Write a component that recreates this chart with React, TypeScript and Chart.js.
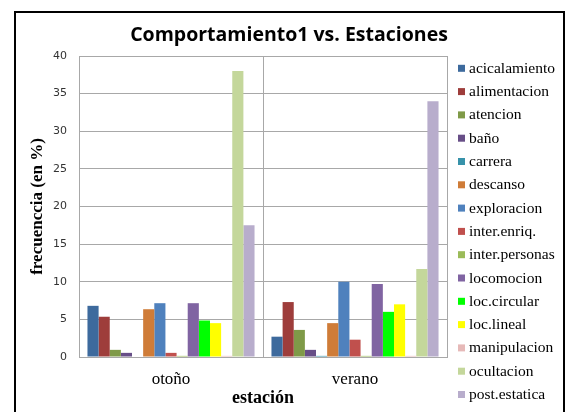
import React, { useEffect, useRef } from "react";
import { Chart, registerables } from "chart.js";

Chart.register(...registerables);

// ---- data ----
const categories = ["otoño", "verano"];
const chartTitle = "Comportamiento1 vs. Estaciones";
const xTitle = "estación";
const yTitle = "frecuenccia (en %)";

const acicalamiento = [6.8, 2.7];
const alimentacion = [5.35, 7.3];
const atencion = [0.95, 3.6];
const bano = [0.55, 0.95];
const carrera = [0, 0.15];
const descanso = [6.35, 4.5];
const exploracion = [7.15, 10.0];
const interEnriq = [0.55, 2.3];
const interPersonas = [0.15, 0.15];
const locomocion = [7.15, 9.7];
const locCircular = [4.85, 6.0];
const locLineal = [4.5, 7.0];
const manipulacion = [0.15, 0.15];
const ocultacion = [38.0, 11.7];
const postEstatica = [17.5, 34.0];

const seriesNames = [
  "acicalamiento", "alimentacion", "atencion", "baño", "carrera", "descanso",
  "exploracion", "inter.enriq.", "inter.personas", "locomocion", "loc.circular",
  "loc.lineal", "manipulacion", "ocultacion", "post.estatica",
];
const seriesValues = [
  acicalamiento, alimentacion, atencion, bano, carrera, descanso,
  exploracion, interEnriq, interPersonas, locomocion, locCircular,
  locLineal, manipulacion, ocultacion, postEstatica,
];
const seriesColors = [
  "#3D6A9D", "#9E3D3B", "#7F9A48", "#674E87", "#3792AA", "#CF7C38",
  "#4F81BD", "#C0504D", "#9BBB59", "#8064A2", "#00FF00",
  "#FFFF00", "#E6B9B8", "#C4D79B", "#B8ADCC",
];

const yMin = 0;
const yMax = 40;
const yStep = 5;

const gridColor = "#a8a8a8";
const serif = "'Liberation Serif', 'Times New Roman', serif";

const framePlugin = {
  id: "frame",
  beforeDraw(chart: any) {
    const { ctx } = chart;
    ctx.save();
    ctx.fillStyle = "#fff";
    ctx.fillRect(0, 0, chart.width, chart.height);
    ctx.strokeStyle = "#000";
    ctx.lineWidth = 2;
    ctx.beginPath();
    ctx.moveTo(15, chart.height + 4);
    ctx.lineTo(15, 12);
    ctx.lineTo(564, 12);
    ctx.lineTo(564, chart.height + 4);
    ctx.stroke();
    ctx.restore();
  },
};

const titlePlugin = {
  id: "customTitle",
  afterDraw(chart: any) {
    const { ctx } = chart;
    ctx.save();
    ctx.font = "bold 19.5px 'Open Sans', Lato, sans-serif";
    ctx.fillStyle = "#000";
    ctx.textAlign = "center";
    ctx.textBaseline = "middle";
    ctx.fillText(chartTitle, 289, 35);
    ctx.restore();
  },
};

const legendPlugin = {
  id: "customLegend",
  afterDraw(chart: any) {
    const { ctx } = chart;
    ctx.save();
    ctx.font = `15.5px ${serif}`;
    ctx.textAlign = "left";
    ctx.textBaseline = "middle";
    chart.data.datasets.forEach((ds: any, i: number) => {
      const y = 68.3 + i * 23.3;
      ctx.fillStyle = ds.backgroundColor;
      ctx.fillRect(458, y - 3.5, 7, 7);
      ctx.fillStyle = "#000";
      ctx.fillText(ds.label, 469, y + 0.5);
    });
    ctx.restore();
  },
};

export default function App() {
  const ref = useRef<HTMLCanvasElement | null>(null);

  useEffect(() => {
    if (!ref.current) return;
    const chart = new Chart(ref.current, {
      type: "bar",
      data: {
        labels: categories,
        datasets: seriesNames.map((name, i) => ({
          label: name,
          data: seriesValues[i],
          backgroundColor: seriesColors[i],
          borderWidth: 0,
          categoryPercentage: 0.908,
          barPercentage: 1,
        })),
      },
      options: {
        animation: false,
        responsive: false,
        devicePixelRatio: 1,
        layout: { padding: { left: 16, right: 122, top: 56, bottom: 0 } },
        plugins: {
          legend: { display: false },
          title: { display: false },
          tooltip: { enabled: false },
        },
        scales: {
          x: {
            grid: { display: true, offset: true, color: gridColor, drawTicks: false },
            border: { color: gridColor },
            ticks: { font: { family: serif, size: 17 }, color: "#000", padding: 12 },
            title: {
              display: true,
              text: xTitle,
              font: { family: serif, size: 18, weight: "bold" },
              color: "#000",
              padding: { top: 0, bottom: 3 },
            },
            afterFit(scale: any) {
              scale.height = 55;
            },
          },
          y: {
            min: yMin,
            max: yMax,
            ticks: {
              stepSize: yStep,
              font: { family: "'DejaVu Sans', Verdana, sans-serif", size: 11 },
              color: "#333",
              padding: 12,
            },
            grid: { color: gridColor, drawTicks: false },
            border: { color: gridColor },
            title: {
              display: true,
              text: yTitle,
              font: { family: serif, size: 17, weight: "bold" },
              color: "#000",
              padding: { top: 11, bottom: 0 },
            },
            afterFit(scale: any) {
              scale.width = 63;
            },
          },
        },
      } as any,
      plugins: [framePlugin, titlePlugin, legendPlugin],
    });
    return () => chart.destroy();
  }, []);

  return (
    <div style={{ position: "absolute", left: 0, top: 0, width: 569, height: 412 }}>
      <canvas ref={ref} width={569} height={412} style={{ display: "block" }} />
    </div>
  );
}
